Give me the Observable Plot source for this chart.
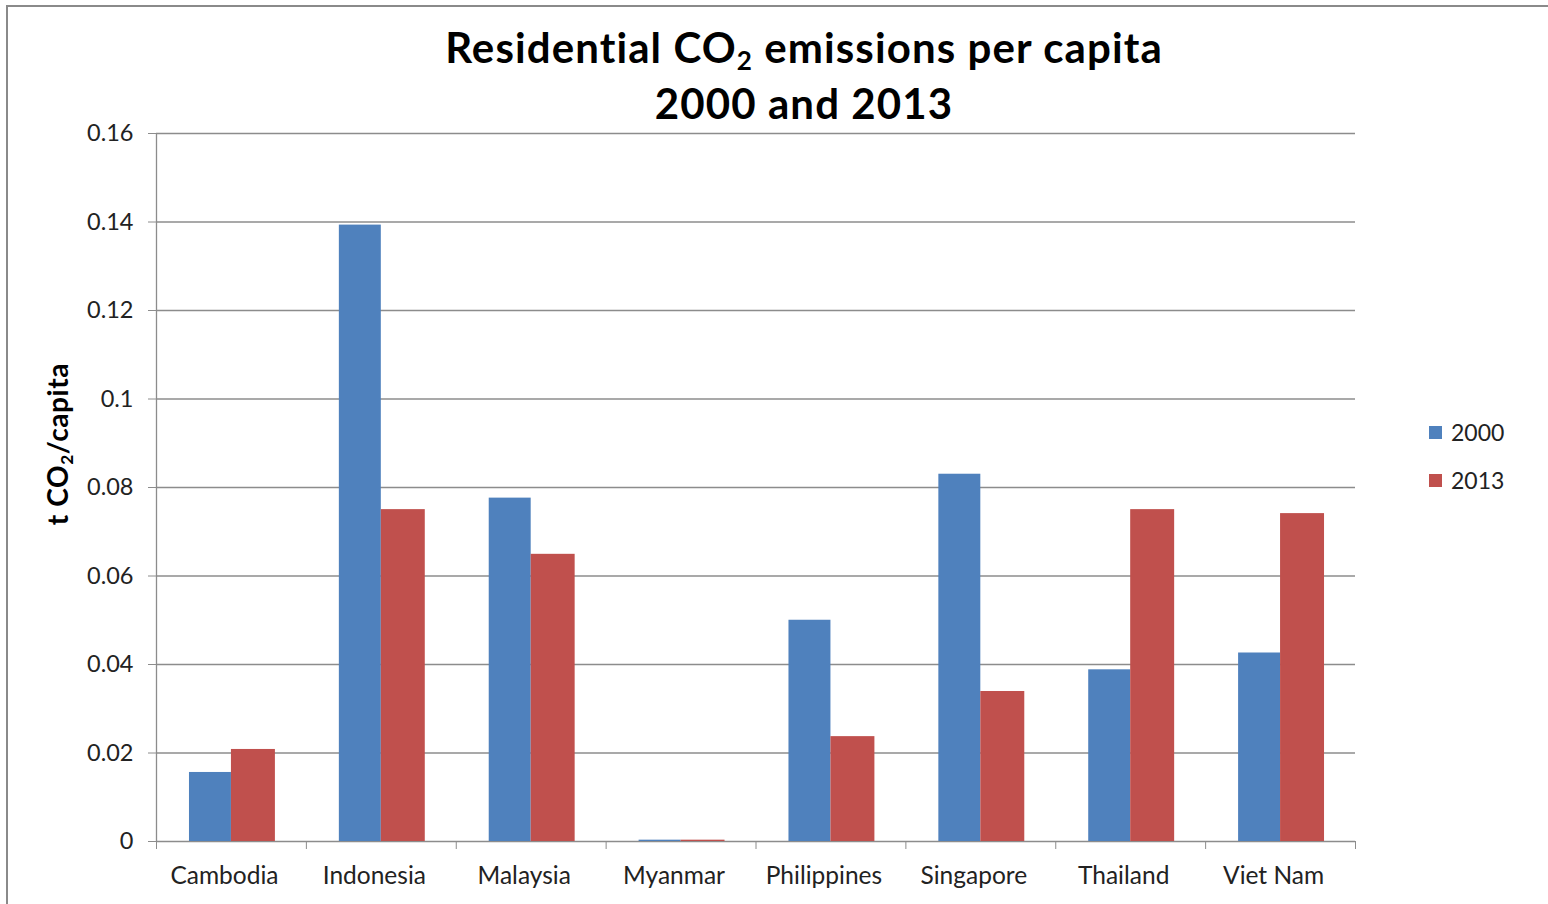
<!DOCTYPE html>
<html>
<head>
<meta charset="utf-8">
<script src="https://cdn.jsdelivr.net/npm/d3@7"></script>
<script src="https://cdn.jsdelivr.net/npm/@observablehq/plot@0.6"></script>
<style>
  html, body { margin: 0; padding: 0; background: #fff; }
  body { width: 1548px; height: 904px; overflow: hidden; position: relative; font-family: Lato, "Open Sans", sans-serif; }
  #border { position: absolute; left: 6px; top: 5px; width: 1600px; height: 1000px; border: 2px solid #8a8a8a; z-index: 3; pointer-events: none; }
  #title { position: absolute; left: 304px; width: 1000px; top: 19px; text-align: center; font-weight: 700; font-size: 42px; letter-spacing: 1.1px; line-height: 56px; color: #000; z-index: 2; }
  #title sub, #ylabel sub { font-size: 0.62em; vertical-align: -0.28em; line-height: 0; }
  #chart { position: absolute; left: 0; top: 0; }
  #ylabel { position: absolute; left: 57px; top: 444px; transform: translate(-50%, -50%) rotate(-90deg); white-space: nowrap; font-weight: 700; font-size: 28px; letter-spacing: 0.6px; color: #000; z-index: 2; }
  #legend { position: absolute; left: 1429px; top: 408px; z-index: 2; }
  .sw { display: flex; align-items: center; height: 48px; font-size: 23px; color: #222; }
  .sw i { display: inline-block; width: 13px; height: 13px; margin-right: 9px; }
</style>
</head>
<body>
<div id="border"></div>
<div id="title">Residential CO<sub>2</sub> emissions per capita<br>2000 and 2013</div>
<div id="ylabel">t CO<sub>2</sub>/capita</div>
<div id="chart"></div>
<div id="legend"></div>
<script>
// Residential CO2 emissions per capita (t CO2 per person), ASEAN countries
const countries = ["Cambodia", "Indonesia", "Malaysia", "Myanmar", "Philippines", "Singapore", "Thailand", "Viet Nam"];
const years = ["2000", "2013"];
const values2000 = [0.0156, 0.1393, 0.0776, 0.0003, 0.0500, 0.0830, 0.0388, 0.0426];
const values2013 = [0.0208, 0.0750, 0.0649, 0.0003, 0.0237, 0.0339, 0.0750, 0.0741];
const yTicks = [0, 0.02, 0.04, 0.06, 0.08, 0.1, 0.12, 0.14, 0.16];
const yTickLabels = ["0", "0.02", "0.04", "0.06", "0.08", "0.1", "0.12", "0.14", "0.16"];
const seriesColors = ["#4F81BD", "#C0504D"];

const rows = countries.flatMap((country, i) => [
  {country, year: years[0], value: values2000[i]},
  {country, year: years[1], value: values2013[i]}
]);

// layout
const width = 1400, height = 904;
const marginLeft = 156, marginRight = 45, marginTop = 133, marginBottom = 63;
const bw = (width - marginLeft - marginRight) / countries.length; // one category band
const groupInset = 0.22 * bw;   // empty space on each side of a bar pair
const gridColor = "#8c8c8c";
const textColor = "#222";
const font = "Lato, 'Open Sans', sans-serif";

const plot = Plot.plot({
  width, height, marginLeft, marginRight, marginTop, marginBottom,
  style: {background: "transparent", fontFamily: font},
  x: {domain: countries, padding: 0, round: false, axis: null},
  y: {domain: [0, 0.16], axis: null},
  color: {domain: years, range: seriesColors},
  marks: [
    // horizontal gridlines (including the baseline at 0)
    Plot.ruleY(yTicks, {stroke: gridColor, strokeWidth: 1.3}),
    // bars: the first year fills the left half of each pair, the second the right half
    Plot.barY(rows.filter(d => d.year === years[0]), {
      x: "country", y: "value", fill: "year",
      insetLeft: groupInset, insetRight: bw / 2
    }),
    Plot.barY(rows.filter(d => d.year === years[1]), {
      x: "country", y: "value", fill: "year",
      insetLeft: bw / 2, insetRight: groupInset - 2
    }),
    // vertical axis line on the left edge of the first band
    Plot.ruleX([countries[0]], {dx: -bw / 2, y1: 0, y2: 0.16, stroke: gridColor, strokeWidth: 1.3}),
    // y axis ticks and labels
    Plot.axisY({
      ticks: yTicks, tickSize: 8, tickPadding: 15,
      tickFormat: d => yTickLabels[yTicks.indexOf(d)],
      stroke: gridColor, fill: textColor, fontSize: 23.5, label: null
    }),
    // category boundary ticks below the baseline
    Plot.axisX({ticks: countries, tickSize: 8, tickFormat: () => "", dx: -bw / 2, stroke: gridColor, label: null}),
    Plot.axisX({ticks: [countries[countries.length - 1]], tickSize: 8, tickFormat: () => "", dx: bw / 2, stroke: gridColor, label: null}),
    // category labels
    Plot.axisX({tickSize: 0, tickPadding: 25, dx: -7, fill: textColor, fontSize: 24.5, label: null})
  ]
});
document.getElementById("chart").appendChild(plot);

// legend built from the plot's color scale
const color = plot.scale("color");
const legend = document.getElementById("legend");
color.domain.forEach((year, i) => {
  const row = document.createElement("div");
  row.className = "sw";
  const box = document.createElement("i");
  box.style.background = color.range[i];
  row.appendChild(box);
  row.appendChild(document.createTextNode(year));
  legend.appendChild(row);
});
</script>
</body>
</html>
